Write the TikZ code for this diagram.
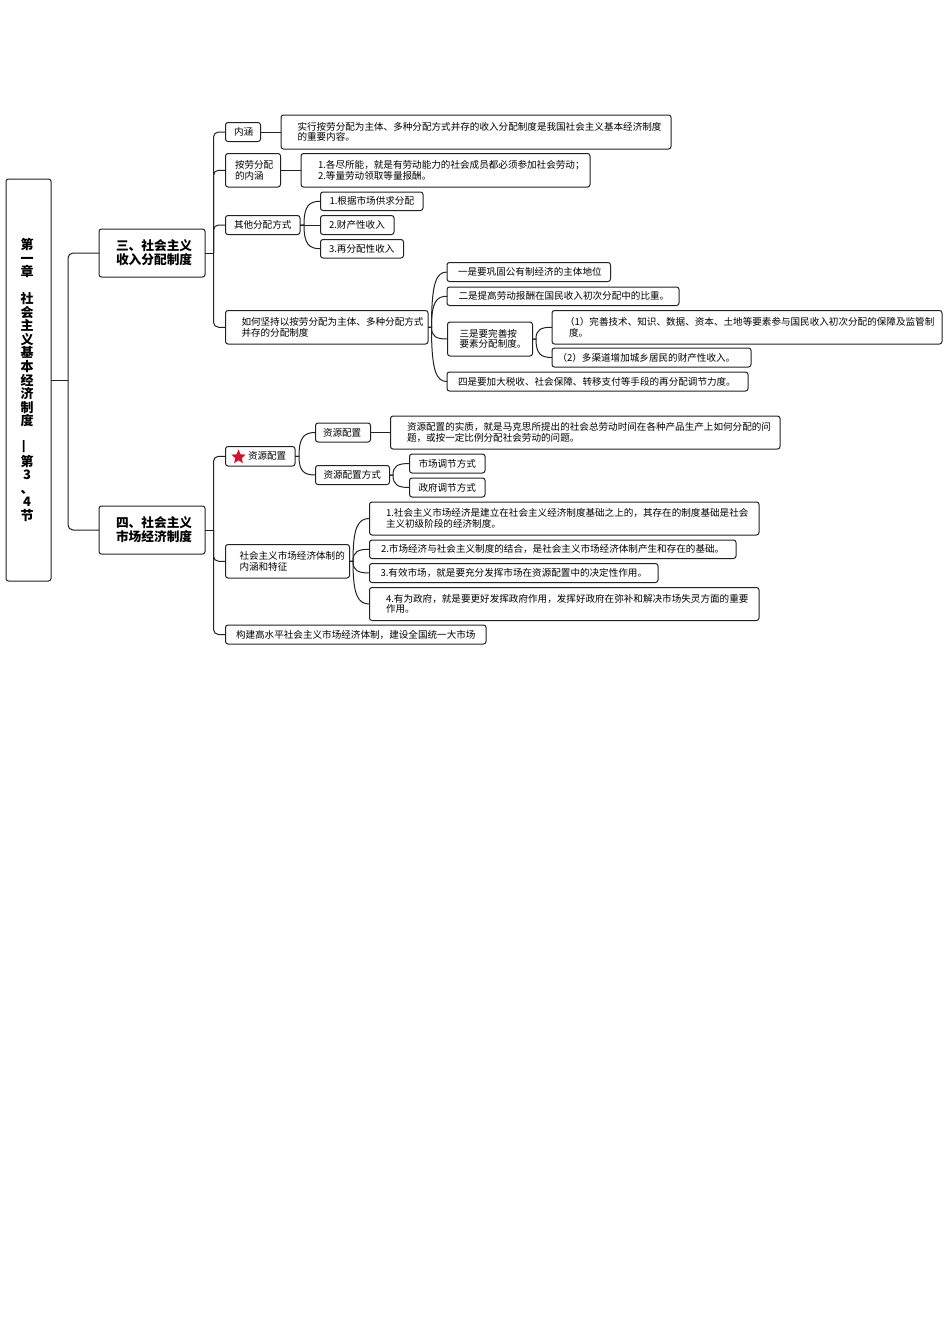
\documentclass[tikz,border=0pt]{standalone}
\usepackage{fontspec}
\setmainfont{Noto Sans CJK SC}
\usetikzlibrary{calc,shapes.geometric}
\definecolor{ink}{HTML}{222222}
\definecolor{starred}{HTML}{D9102A}
\tikzset{
  bxs/.style={draw=ink,line width=1pt,rounded corners=2.5pt,inner sep=0pt,outer sep=0pt,fill=white,text=black},
  conn/.style={draw=ink,line width=1pt},
}
\newcommand{\bx}[8][9.58]{%
  \pgfmathsetmacro{\bw}{#5-#3}\pgfmathsetmacro{\bh}{#6-#4}%
  \pgfmathsetmacro{\cx}{(#3+#5)/2}\pgfmathsetmacro{\cy}{(#4+#6)/2}%
  \node[bxs,minimum width=\bw pt,minimum height=\bh pt] (#2) at (\cx,\cy)
   {\parbox{\bw pt}{\fontsize{#1}{10.5}\selectfont\parindent=0pt\leftskip=#7pt\rightskip=-60pt\relax #8}};}
\newcommand{\elbow}[3]{\draw[conn] let \p1=(#1.east),\p2=(#2.west) in (\p1) -- (#3pt,\y1);
  \draw[conn,rounded corners=5pt] let \p1=(#1.east),\p2=(#2.west) in (#3pt,\y1) -- (#3pt,\y2) -- (\p2);}
\newcommand{\curv}[3]{\draw[conn] let \p1=(#1.east),\p2=(#2.west) in (\p1) -- (#3pt,\y1) .. controls (#3pt,{\y1+0.8*(\y2-\y1)}) and ({#3pt+0.3*(\x2-#3pt)},\y2) .. (\p2);}
\begin{document}
\begin{tikzpicture}[x=1pt,y=-1pt]
\useasboundingbox (0,0) rectangle (950,1344);
% root
\node[bxs,minimum width=45pt,minimum height=402pt] (root) at (28.5,380)
 {\parbox{45pt}{\centering\fontsize{13}{13.55}\selectfont\bfseries\hspace*{-3pt}第\\\hspace*{-3pt}一\\\hspace*{-3pt}章\\\mbox{}\\\hspace*{-3pt}社\\\hspace*{-3pt}会\\\hspace*{-3pt}主\\\hspace*{-3pt}义\\\hspace*{-3pt}基\\\hspace*{-3pt}本\\\hspace*{-3pt}经\\\hspace*{-3pt}济\\\hspace*{-3pt}制\\\hspace*{-3pt}度\\\mbox{}\\\makebox[0pt]{\hspace*{-6pt}\raisebox{-1pt}{\rotatebox{90}{\fontsize{15}{15}\selectfont —}}}\\\hspace*{-3pt}第\\\hspace*{-3pt}3\\\hspace*{-3pt}、\\\hspace*{-3pt}4\\\hspace*{-3pt}节}};
% level 1
\node[bxs,minimum width=106pt,minimum height=48pt] (s3) at (152,253)
 {\parbox{106pt}{\fontsize{12.7}{13.8}\selectfont\bfseries\parindent=0pt\leftskip=17pt\rightskip=-20pt\relax 三、社会主义\\收入分配制度}};
\node[bxs,minimum width=106pt,minimum height=48pt] (s4) at (152,530)
 {\parbox{106pt}{\fontsize{12.7}{13.8}\selectfont\bfseries\parindent=0pt\leftskip=17pt\rightskip=-20pt\relax 四、社会主义\\市场经济制度}};
% section 3
\bx{a1}{225.5}{122.5}{260.5}{141.5}{8.5}{内涵}
\bx{a1x}{281}{115}{671}{149}{16.5}{实行按劳分配为主体、多种分配方式并存的收入分配制度是我国社会主义基本经济制度\\的重要内容。}
\bx{a2}{225.5}{153.5}{280.5}{187}{9.5}{按劳分配\\的内涵}
\bx{a2x}{301}{153.5}{590}{187}{17}{1.各尽所能，就是有劳动能力的社会成员都必须参加社会劳动；\\2.等量劳动领取等量报酬。}
\bx{a3}{225.5}{215.5}{300}{234.5}{8.5}{其他分配方式}
\bx{a31}{320.5}{192}{423}{210.5}{9}{1.根据市场供求分配}
\bx{a32}{320.5}{215.5}{394}{234.5}{8.5}{2.财产性收入}
\bx{a33}{320.5}{239.5}{403.5}{258}{8.5}{3.再分配性收入}
\bx{a4}{225.5}{310.5}{428}{344}{16}{如何坚持以按劳分配为主体、多种分配方式\\并存的分配制度}
\bx{a41}{447}{262.5}{610.5}{281.5}{11}{一是要巩固公有制经济的主体地位}
\bx{a42}{447}{287}{679}{305.5}{11.5}{二是提高劳动报酬在国民收入初次分配中的比重。}
\bx{a43}{447.5}{322}{532.5}{356}{12}{三是要完善按\\要素分配制度。}
\bx{a431}{552}{310.5}{942}{344}{17}{\hspace*{-4pt}（1）完善技术、知识、数据、资本、土地等要素参与国民收入初次分配的保障及监管制\\度。}
\bx{a432}{552}{348}{751}{367}{5.5}{（2）多渠道增加城乡居民的财产性收入。}
\bx{a44}{447}{372}{748}{391}{11}{四是要加大税收、社会保障、转移支付等手段的再分配调节力度。}
% section 4
\bx{b1}{225.5}{446.5}{295}{466}{22.5}{资源配置}
\node[star,star points=5,star point ratio=2.2,fill=starred,inner sep=0pt,minimum size=15pt] (redstar) at (238.5,457) {};
\bx{b11}{315.5}{423}{370.5}{442}{7.5}{资源配置}
\bx{b11x}{390.5}{416}{780}{449}{16.5}{资源配置的实质，就是马克思所提出的社会总劳动时间在各种产品生产上如何分配的问\\题，或按一定比例分配社会劳动的问题。}
\bx{b12}{315.5}{465.5}{389.5}{484.5}{8}{资源配置方式}
\bx{b121}{409.5}{454}{485}{473}{9}{市场调节方式}
\bx{b122}{409.5}{478}{485}{497}{9}{政府调节方式}
\bx{b2}{225.5}{544.5}{349.5}{578}{14}{社会主义市场经济体制的\\内涵和特征}
\bx{b21}{369.5}{502}{759}{535}{16.5}{1.社会主义市场经济是建立在社会主义经济制度基础之上的，其存在的制度基础是社会\\主义初级阶段的经济制度。}
\bx{b22}{369.5}{540}{736}{558.5}{11.5}{2.市场经济与社会主义制度的结合，是社会主义市场经济体制产生和存在的基础。}
\bx{b23}{369.5}{563.5}{658}{582.5}{11}{3.有效市场，就是要充分发挥市场在资源配置中的决定性作用。}
\bx{b24}{369.5}{587.5}{759}{620.5}{16.5}{4.有为政府，就是要更好发挥政府作用，发挥好政府在弥补和解决市场失灵方面的重要\\作用。}
\bx{b3}{225.5}{625}{486}{644}{10.5}{构建高水平社会主义市场经济体制，建设全国统一大市场}
% connectors
\elbow{root}{s3}{68}
\elbow{root}{s4}{68}
\elbow{s3}{a1}{213.5}
\elbow{s3}{a2}{213.5}
\elbow{s3}{a3}{213.5}
\elbow{s3}{a4}{213.5}
\elbow{s4}{b1}{213.5}
\elbow{s4}{b2}{213.5}
\elbow{s4}{b3}{213.5}
\draw[conn] (a1) -- (a1x);
\draw[conn] (a2) -- (a2x);
\draw[conn] (b11) -- (b11x);
\curv{a3}{a31}{304}
\draw[conn] (a3) -- (a32);
\curv{a3}{a33}{304}
\curv{a4}{a41}{431.5}
\curv{a4}{a42}{431.5}
\curv{a4}{a43}{431.5}
\curv{a4}{a44}{431.5}
\curv{a43}{a431}{536}
\curv{a43}{a432}{536}
\curv{b1}{b11}{299}
\curv{b1}{b12}{299}
\curv{b12}{b121}{393}
\curv{b12}{b122}{393}
\curv{b2}{b21}{353}
\curv{b2}{b22}{353}
\curv{b2}{b23}{353}
\curv{b2}{b24}{353}
\end{tikzpicture}
\end{document}
